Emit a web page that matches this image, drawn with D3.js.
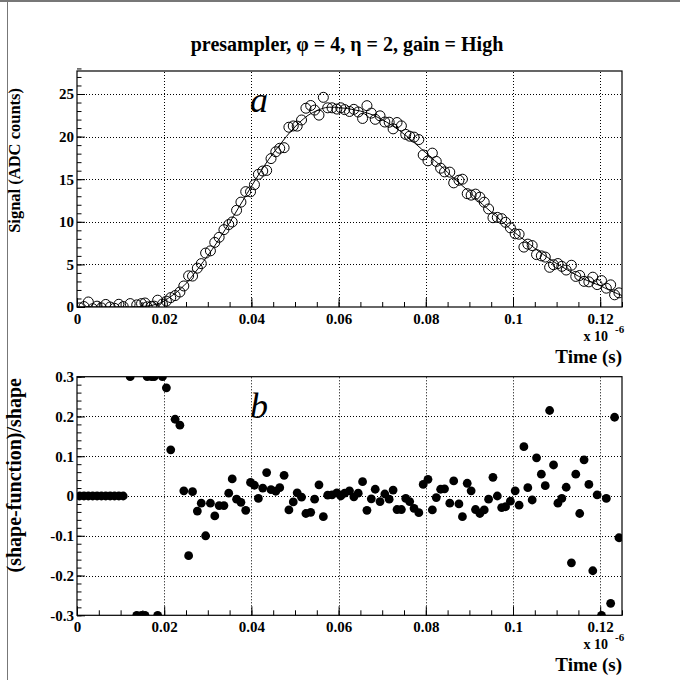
<!DOCTYPE html>
<html><head><meta charset="utf-8">
<script src="https://cdn.jsdelivr.net/npm/d3@7"></script>
<style>body{margin:0;background:#fff}</style>
</head><body><svg id="c" width="680" height="680"></svg>
<script>
// time in ns (axis shows units of 1e-6 s)
const times = [0.6,1.6,2.6,3.6,4.6,5.6,6.6,7.6,8.6,9.6,10.6,
 12.2,13.7,14.8,15.6,16.1,17.1,17.7,18.5,19.6,
 20.5,21.5,22.5,23.6,24.5,25.6,26.5,27.6,28.5,29.5,
 30.6,31.6,32.6,33.7,34.8,35.6,36.6,37.6,38.7,39.8,
 40.7,41.6,42.6,43.5,44.5,45.6,46.5,47.5,48.6,49.6,
 50.5,51.5,52.5,53.6,54.5,55.5,56.5,57.5,58.5,59.6,
 60.5,61.4,62.5,63.5,64.5,65.5,66.5,67.5,68.4,69.5,
 70.6,71.6,72.5,73.4,74.4,75.4,76.3,77.3,78.4,79.4,
 80.5,81.5,82.4,83.4,84.3,85.5,86.4,87.6,88.4,89.5,
 90.4,91.4,92.4,93.4,94.4,95.4,96.4,97.4,98.3,99.4,
 100.5,101.4,102.5,103.4,104.4,105.4,106.5,107.4,108.4,109.3,
 110.3,111.2,112.2,113.4,114.4,115.3,116.3,117.4,118.3,119.3,
 120.3,121.4,122.4,123.3,124.3];
const signal = [-0.1,0.05,0.59,-0.2,0.1,-0.1,0.3,0.0,-0.15,0.32,0.05,
 0.4,0.25,0.4,0.47,0.02,0.08,0.1,0.8,0.35,
 0.69,1.10,1.34,1.76,2.47,3.66,3.63,4.56,5.09,6.33,
 6.59,7.58,8.18,9.08,9.67,9.98,11.35,12.31,13.54,13.52,
 14.36,15.57,15.96,16.03,17.42,18.22,18.63,18.70,21.10,21.25,
 21.23,21.95,23.33,23.65,23.11,22.52,24.61,23.38,23.38,23.23,
 23.38,23.17,22.95,23.2,22.89,22.13,23.63,22.76,22.03,22.44,
 21.71,21.69,20.91,21.65,21.26,20.26,20.05,19.94,19.65,17.85,
 17.16,18.06,17.09,16.29,15.86,15.83,14.57,14.88,15.0,13.3,
 13.13,13.25,12.89,12.3,11.51,10.48,10.52,10.37,9.94,9.29,
 8.59,8.54,7.03,7.38,7.21,6.15,6.0,5.86,4.66,4.96,
 5.10,4.77,4.34,4.90,3.59,3.70,3.01,2.95,3.50,2.63,
 3.1,2.21,2.6,1.43,1.66];
const resid = [0,0,0,0,0,0,0,0,0,0,0,
 0.3,-0.3,-0.3,-0.3,0.3,0.3,0.3,-0.3,0.3,
 0.272,0.116,0.193,0.178,0.013,-0.150,0.011,-0.038,-0.018,-0.10,
 -0.018,-0.050,-0.024,-0.024,0.007,0.043,-0.008,-0.016,-0.036,0.034,
 0.027,-0.006,0.020,0.059,0.016,0.012,0.021,0.052,-0.035,-0.015,
 0.008,-0.003,-0.044,-0.041,-0.008,0.028,-0.052,0.002,0.003,0.008,
 0.0,0.007,0.013,-0.002,0.007,0.036,-0.036,-0.007,0.017,-0.014,
 0.005,-0.008,0.015,-0.034,-0.034,-0.006,-0.014,-0.031,-0.042,0.029,
 0.042,-0.035,-0.004,0.017,0.018,-0.018,0.038,-0.020,-0.052,0.032,
 0.013,-0.034,-0.044,-0.035,-0.008,0.047,0.0,-0.029,-0.027,-0.013,
 0.013,-0.023,0.124,0.021,-0.010,0.096,0.055,0.026,0.215,0.078,
 -0.018,-0.006,0.022,-0.168,0.055,-0.044,0.091,0.029,-0.188,0.003,
 -0.3,-0.006,-0.27,0.198,-0.105];
const fitT = [0,12,14,16,17,18,19,20,21,22,23,24,25,26,27,28,29,30,31,32,33,34,35,36,37,38,39,40,
 41,42,43,44,45,46,47,48,49,50,51,52,53,54,55,56,57,58,59,60,61,62,63,64,65,66,67,68,69,70,
 71,72,73,74,75,76,77,78,79,80,82,84,86,88,90,92,94,96,98,100,102,104,106,108,110,112,114,116,
 118,120,122,124,125];
const fitV = [0,0,0.03,0.1,0.16,0.3,0.45,0.7,1.05,1.4,1.8,2.25,2.75,3.35,4.0,4.65,5.35,6.05,6.75,7.5,
 8.3,9.1,9.9,10.75,11.6,12.45,13.3,14.15,15.0,15.8,16.6,17.35,18.05,18.7,19.35,20.0,20.6,21.15,21.65,
 22.1,22.5,22.8,23.05,23.25,23.4,23.45,23.45,23.4,23.35,23.3,23.2,23.1,23.0,22.85,22.7,22.5,22.25,22.0,
 21.7,21.4,21.05,20.7,20.3,19.9,19.45,19.0,18.55,18.1,17.2,16.3,15.3,14.4,13.5,12.5,11.6,10.7,9.8,8.9,
 8.1,7.3,6.5,5.8,5.1,4.5,3.9,3.35,2.9,2.5,2.0,1.55,1.35];
const xTickVals = [0,20,40,60,80,100,120];
const xTickLabels = ["0","0.02","0.04","0.06","0.08","0.1","0.12"];
const ySigTicks = [0,5,10,15,20,25];
const ySigLabels = ["0","5","10","15","20","25"];
const yResTicks = [-0.3,-0.2,-0.1,0,0.1,0.2,0.3];
const yResLabels = ["-0.3","-0.2","-0.1","0","0.1","0.2","0.3"];

const FONT = '"Liberation Serif","Times New Roman",serif';
const svg = d3.select("#c");
svg.append("rect").attr("width",680).attr("height",680).attr("fill","#fff");
svg.append("line").attr("x1",0).attr("x2",680).attr("y1",1).attr("y2",1).attr("stroke","#777").attr("stroke-width",2);
svg.append("line").attr("x1",7.5).attr("x2",7.5).attr("y1",0).attr("y2",680).attr("stroke","#777").attr("stroke-width",1);

const L = 77, R = 622;
const x = d3.scaleLinear().domain([0,125]).range([L,R]);
const yTop = d3.scaleLinear().domain([0,27.7]).range([307,71]);
const yBot = d3.scaleLinear().domain([-0.3,0.3]).range([615.3,376.7]);

function panel(y, majors, labels, minorStep, id) {
  const [yb, yt] = y.range();
  const [d0, d1] = y.domain();
  const g = svg.append("g");
  svg.append("clipPath").attr("id", id).append("rect")
    .attr("x", L).attr("y", yt).attr("width", R-L).attr("height", yb-yt);
  // grid
  g.selectAll(null).data(xTickVals.filter(v=>v>0)).join("line")
    .attr("x1", d=>Math.round(x(d))+0.5).attr("x2", d=>Math.round(x(d))+0.5).attr("y1", yb).attr("y2", yt)
    .attr("stroke","#000").attr("stroke-width",1).attr("stroke-dasharray","1,2");
  g.selectAll(null).data(majors.filter(v=>v>d0+1e-9 && v<d1-1e-9)).join("line")
    .attr("x1", L).attr("x2", R).attr("y1", d=>Math.round(y(d))+0.5).attr("y2", d=>Math.round(y(d))+0.5)
    .attr("stroke","#000").attr("stroke-width",1).attr("stroke-dasharray","1,2");
  // x minor ticks
  const xMinor = d3.range(0, 125.01, 5);
  g.append("g").attr("transform",`translate(0,${yb})`)
    .call(d3.axisBottom(x).tickValues(xMinor).tickSize(-5).tickFormat(""))
    .call(a=>a.select(".domain").remove());
  const xa = g.append("g").attr("transform",`translate(0,${yb})`)
    .call(d3.axisBottom(x).tickValues(xTickVals).tickSize(-9).tickPadding(6)
      .tickFormat((d,i)=>xTickLabels[i]))
    .call(a=>a.select(".domain").remove());
  xa.attr("font-family", FONT).attr("font-size", 15).attr("font-weight","bold");
  // y minor ticks
  const yMinor = d3.range(Math.round(d0/minorStep), Math.round(d1/minorStep)+1).map(k=>k*minorStep);
  g.append("g").attr("transform",`translate(${L},0)`)
    .call(d3.axisLeft(y).tickValues(yMinor).tickSize(-4.5).tickFormat(""))
    .call(a=>a.select(".domain").remove());
  const ya = g.append("g").attr("transform",`translate(${L},0)`)
    .call(d3.axisLeft(y).tickValues(majors).tickSize(-8).tickPadding(3)
      .tickFormat((d,i)=>labels[i]))
    .call(a=>a.select(".domain").remove());
  ya.attr("font-family", FONT).attr("font-size", 15).attr("font-weight","bold");
  g.selectAll(".tick line").attr("stroke","#000");
  // frame
  g.append("rect").attr("x", L).attr("y", yt).attr("width", R-L).attr("height", yb-yt)
    .attr("fill","none").attr("stroke","#000").attr("stroke-width",1.2);
  // x10^-6 and Time (s)
  svg.append("text").attr("x", 608).attr("y", yb+34).attr("text-anchor","end")
    .attr("font-family", FONT).attr("font-size",14).attr("font-weight","bold").text("x 10");
  svg.append("text").attr("x", 615).attr("y", yb+26)
    .attr("font-family", FONT).attr("font-size",11).attr("font-weight","bold").text("-6");
  svg.append("text").attr("x", R).attr("y", yb+56).attr("text-anchor","end")
    .attr("font-family", FONT).attr("font-size",19).attr("font-weight","bold").text("Time (s)");
  return g;
}

panel(yTop, ySigTicks, ySigLabels, 1, "clipTop");
panel(yBot, yResTicks, yResLabels, 0.02, "clipBot");

// title
svg.append("text").attr("x", 347).attr("y", 51).attr("text-anchor","middle")
  .attr("font-family", FONT).attr("font-size", 20).attr("font-weight","bold")
  .text("presampler, \u03c6 = 4, \u03b7 = 2, gain = High");

// y titles
svg.append("text").attr("transform","translate(20,88) rotate(-90)").attr("text-anchor","end")
  .attr("font-family", FONT).attr("font-size", 16.5).attr("font-weight","bold")
  .text("Signal (ADC counts)");
svg.append("text").attr("transform","translate(21,378) rotate(-90)").attr("text-anchor","end")
  .attr("font-family", FONT).attr("font-size", 20).attr("font-weight","bold")
  .text("(shape-function)/shape");

// fit curve
const pts = fitT.map((t,i)=>[t, fitV[i]]);
svg.append("path").attr("clip-path","url(#clipTop)")
  .attr("d", d3.line().x(d=>x(d[0])).y(d=>yTop(d[1])).curve(d3.curveMonotoneX)(pts))
  .attr("fill","none").attr("stroke","#000").attr("stroke-width",1);

// signal markers
const sigIdx = d3.range(times.length).filter(i=>signal[i] <= 27.7 && signal[i] >= -0.5);
svg.append("g").attr("clip-path","url(#clipTop)")
  .selectAll("circle").data(sigIdx).join("circle")
  .attr("cx", i=>x(times[i])).attr("cy", i=>yTop(signal[i])).attr("r", 5)
  .attr("fill","none").attr("stroke","#000").attr("stroke-width",1);

// residual markers
svg.append("g").attr("clip-path","url(#clipBot)")
  .selectAll("circle").data(d3.range(times.length)).join("circle")
  .attr("cx", i=>x(times[i])).attr("cy", i=>yBot(resid[i])).attr("r", 4.4)
  .attr("fill","#000");

// panel letters
svg.append("text").attr("x", 250).attr("y", 112).attr("font-family", FONT)
  .attr("font-size", 36).attr("font-style","italic").text("a");
svg.append("text").attr("x", 250).attr("y", 418).attr("font-family", FONT)
  .attr("font-size", 36).attr("font-style","italic").text("b");
</script></body></html>
